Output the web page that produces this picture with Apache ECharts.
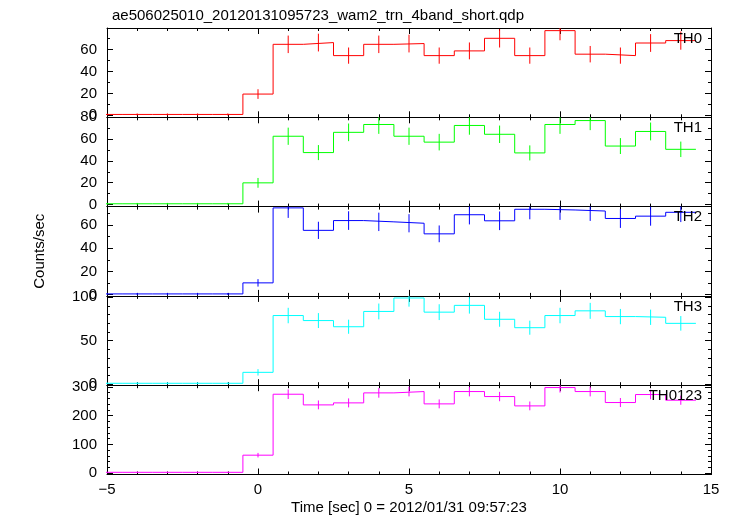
<!DOCTYPE html>
<html><head><meta charset="utf-8">
<script src="https://cdn.jsdelivr.net/npm/echarts@6/dist/echarts.min.js"></script>
<style>html,body{margin:0;padding:0;background:#fff}#c{width:733px;height:516px}</style>
</head><body><div id="c"></div>
<script>
// ---- data ----
const titleText = 'ae506025010_20120131095723_wam2_trn_4band_short.qdp';
const xAxisName = 'Time [sec] 0 = 2012/01/31 09:57:23';
const yAxisName = 'Counts/sec';
const binCenters = [-5,-4,-3,-2,-1,0,1,2,3,4,5,6,7,8,9,10,11,12,13,14];
const panelNames = ['TH0','TH1','TH2','TH3','TH0123'];

const th0    = [0.8,0.8,0.8,0.8,0.8,19.4,64.8,66.4,54.5,64.8,65.5,54.5,58.8,70.3,54.5,77.3,55.8,54.5,66.0,68.2];
const th0Err = [0.9,0.9,0.9,0.9,0.9,4.4,8.0,8.1,7.4,8.0,8.1,7.4,7.7,8.4,7.4,8.8,7.5,7.4,8.1,8.3];
const th1    = [0.6,0.6,0.6,0.6,0.6,19.8,62.6,47.6,66.2,73.4,62.6,57.2,72.5,64.4,47.3,73.4,77.0,53.6,67.0,50.6];
const th1Err = [0.8,0.8,0.8,0.8,0.8,4.5,7.9,6.9,8.1,8.6,7.9,7.6,8.5,8.0,6.9,8.6,8.8,7.3,8.2,7.1];
const th2    = [0.7,0.7,0.7,0.7,0.7,10.2,74.6,55.3,63.7,62.6,61.4,52.3,68.7,63.5,73.4,72.8,71.9,65.5,67.5,70.8];
const th2Err = [0.8,0.8,0.8,0.8,0.8,3.2,8.6,7.4,8.0,7.9,7.8,7.2,8.3,8.0,8.6,8.5,8.5,8.1,8.2,8.4];
const th3    = [1.0,1.0,1.0,1.0,1.0,13.6,79.0,73.2,66.1,83.7,99.2,82.9,90.7,74.7,65.0,79.0,84.4,77.8,77.0,70.0];
const th3Err = [1.0,1.0,1.0,1.0,1.0,3.7,8.9,8.6,8.1,9.1,10.0,9.1,9.5,8.6,8.1,8.9,9.2,8.8,8.8,8.4];
const th0123    = [3.0,3.0,3.0,3.0,3.0,62.6,274.6,237.5,244.5,279.3,283.9,241.0,283.9,266.5,234.0,297.8,283.9,245.7,273.5,253.8];
const th0123Err = [1.7,1.7,1.7,1.7,1.7,7.9,16.6,15.4,15.6,16.7,16.8,15.5,16.8,16.3,15.3,17.3,16.8,15.7,16.5,15.9];

const xMin = -5, xMax = 15, xMajor = 5;
const yMin = [-1.8, -2, -1, -1.2, -4.6];
const yMax = [79.7, 80, 75.7, 101.6, 306];
const yMajor = [20, 20, 20, 50, 100];
const yMinorSplit = [2, 2, 2, 5, 5];

// ---- styling / layout ----
const values = [th0, th1, th2, th3, th0123];
const errors = [th0Err, th1Err, th2Err, th3Err, th0123Err];
const colors = ['#ff0000', '#00ff00', '#0000ff', '#00ffff', '#ff00ff'];
const FONT = 'Liberation Sans, Arial, Helvetica, sans-serif';
const W = 733, H = 516;
const LEFT = 107, RIGHT = 711, TOP = 28, BOTTOM = 474.5;
const PH = (BOTTOM - TOP) / 5;

const grids = [], xAxes = [], yAxes = [], series = [], graphics = [];
const lineStyle = { color: '#000', width: 1 };
for (let i = 0; i < 5; i++) {
  const top = TOP + i * PH;
  grids.push({ left: LEFT, right: W - RIGHT, top: top, height: PH, containLabel: false });
  const last = i === 4;
  ['bottom', 'top'].forEach((pos, k) => {
    xAxes.push({
      type: 'value', gridIndex: i, position: pos, min: xMin, max: xMax, interval: xMajor,
      axisLine: { show: true, onZero: false, lineStyle },
      axisTick: { show: true, inside: true, length: 6, lineStyle },
      minorTick: { show: true, splitNumber: 5, length: 3, lineStyle },
      splitLine: { show: false },
      axisLabel: {
        show: last && k === 0, color: '#000', fontSize: 15, fontFamily: FONT, margin: 8,
        formatter: v => String(v).replace('-', '\u2212')
      }
    });
  });
  ['left', 'right'].forEach((pos, k) => {
    yAxes.push({
      type: 'value', gridIndex: i, position: pos, min: yMin[i], max: yMax[i],
      minInterval: yMajor[i], maxInterval: yMajor[i], splitNumber: 4,
      axisLine: { show: true, onZero: false, lineStyle },
      axisTick: { show: true, inside: true, length: 6, lineStyle },
      minorTick: { show: true, splitNumber: yMinorSplit[i], length: 3, lineStyle },
      splitLine: { show: false },
      axisLabel: {
        show: k === 0, color: '#000', fontSize: 15, fontFamily: FONT, margin: 10,
        showMinLabel: true, showMaxLabel: true,
        formatter: v => (Math.abs(v / yMajor[i] - Math.round(v / yMajor[i])) < 1e-6 ? String(Math.round(v)) : '')
      }
    });
  });
  // histogram step line
  const steps = [];
  binCenters.forEach((t, k) => { steps.push([t - 0.5, values[i][k]]); steps.push([t + 0.5, values[i][k]]); });
  series.push({
    type: 'line', xAxisIndex: 2 * i, yAxisIndex: 2 * i, data: steps, showSymbol: false, symbol: 'none',
    lineStyle: { color: colors[i], width: 1 }, clip: true, animation: false, z: 3
  });
  // error bars
  const col = colors[i];
  series.push({
    type: 'custom', xAxisIndex: 2 * i, yAxisIndex: 2 * i, clip: true, animation: false, z: 3,
    data: binCenters.map((t, k) => [t, values[i][k], errors[i][k]]),
    encode: { x: 0, y: 1 },
    renderItem: (params, api) => {
      const x = api.value(0), y = api.value(1), e = api.value(2);
      const p1 = api.coord([x, y - e]), p2 = api.coord([x, y + e]);
      return { type: 'line', shape: { x1: p1[0], y1: p1[1], x2: p2[0], y2: p2[1] },
               style: { stroke: col, lineWidth: 1 } };
    }
  });
  graphics.push({
    type: 'text', right: W - RIGHT + 9, top: top + 3, z: 10,
    style: { text: panelNames[i], fill: '#000', font: '15px ' + FONT }
  });
}
graphics.push({
  type: 'text', x: 40, y: (TOP + BOTTOM) / 2, rotation: Math.PI / 2, z: 10,
  style: { text: yAxisName, fill: '#000', font: '15px ' + FONT, align: 'center', verticalAlign: 'middle' }
});
graphics.push({
  type: 'text', x: (LEFT + RIGHT) / 2, y: 508, z: 10,
  style: { text: xAxisName, fill: '#000', font: '15px ' + FONT, align: 'center', verticalAlign: 'middle' }
});

const chart = echarts.init(document.getElementById('c'), null, { renderer: 'canvas' });
chart.setOption({
  animation: false,
  backgroundColor: '#fff',
  title: { text: titleText, left: LEFT, top: 3, textStyle: { fontSize: 15, fontWeight: 'normal', color: '#000', fontFamily: FONT } },
  grid: grids, xAxis: xAxes, yAxis: yAxes, series: series, graphic: graphics
});
</script></body></html>
